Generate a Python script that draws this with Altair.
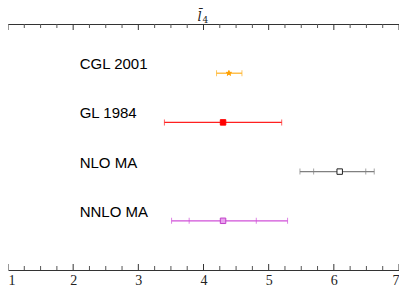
import altair as alt
import pandas as pd

labels = ["CGL 2001", "GL 1984", "NLO MA", "NNLO MA"]
rows = [1, 2, 3, 4]
centers = [4.39, 4.30, 6.09, 4.30]
total_lo = [4.20, 3.40, 5.48, 3.51]
total_hi = [4.59, 5.20, 6.62, 5.29]
inner_lo = [None, None, 5.69, 3.78]
inner_hi = [None, None, 6.49, 4.81]
label_x = [2.1, 2.1, 2.1, 2.1]

title_main = "l\u0304"
title_sub = "4"
title_x = [4.0]

line_colors = ["#FFB020", "#FF2020", "#808080", "#D050D8"]
point_fill = ["#FFA000", "#FF0000", "#FFFFFF", "#E9A0EE"]
point_stroke = ["#FFA000", "#FF0000", "#222222", "#C040C8"]
STAR = "M0,-1L0.225,-0.31L0.95,-0.31L0.36,0.12L0.59,0.81L0,0.38L-0.59,0.81L-0.36,0.12L-0.95,-0.31L-0.225,-0.31Z"
point_shape = [STAR, "square", "square", "square"]

major_ticks = [1, 2, 3, 4, 5, 6, 7]
minor_ticks = [1.25, 1.5, 1.75, 2.25, 2.5, 2.75, 3.25, 3.5, 3.75,
               4.25, 4.5, 4.75, 5.25, 5.5, 5.75, 6.25, 6.5, 6.75]

W, H = 391, 246

df = pd.DataFrame({"label": labels, "row": rows, "c": centers,
                   "lo": total_lo, "hi": total_hi, "lx": label_x})
caps = []
for lab, r, a, b, c, d in zip(labels, rows, total_lo, total_hi, inner_lo, inner_hi):
    for v in (a, b, c, d):
        if v is not None:
            caps.append({"label": lab, "row": r, "v": v})
df_caps = pd.DataFrame(caps)
df_major = pd.DataFrame({"v": major_ticks})
df_minor = pd.DataFrame({"v": minor_ticks})
df_title = pd.DataFrame({"x": title_x, "main": [title_main], "sub": [title_sub]})

xs = alt.Scale(domain=[1, 7], nice=False, zero=False)
ys = alt.Scale(domain=[0, 5], nice=False, zero=False, reverse=True)
col = alt.Scale(domain=labels, range=line_colors)

top_axis = alt.Axis(orient="top", title=None, labels=False, ticks=False,
                    grid=False, domainColor="#333333", domainWidth=1)
bot_axis = alt.Axis(orient="bottom", title=None, ticks=False, grid=False,
                    values=major_ticks, format="d",
                    domainColor="#333333", domainWidth=1,
                    labelFont="Liberation Serif", labelFontSize=14,
                    labelColor="#222222", labelPadding=3, labelFlush=True)

top_major = alt.Chart(df_major).mark_rule(color="#333333", strokeWidth=1).encode(
    x=alt.X("v:Q", scale=xs, axis=top_axis), y=alt.value(0), y2=alt.value(6))
bot_major = alt.Chart(df_major).mark_rule(color="#333333", strokeWidth=1).encode(
    x=alt.X("v:Q", scale=xs, axis=bot_axis), y=alt.value(H), y2=alt.value(H - 6))
top_minor = alt.Chart(df_minor).mark_rule(color="#555555", strokeWidth=1).encode(
    x=alt.X("v:Q", scale=xs, axis=None), y=alt.value(0), y2=alt.value(4))
bot_minor = alt.Chart(df_minor).mark_rule(color="#555555", strokeWidth=1).encode(
    x=alt.X("v:Q", scale=xs, axis=None), y=alt.value(H), y2=alt.value(H - 4))

t_main = alt.Chart(df_title).mark_text(align="center", baseline="alphabetic",
                                       font="DejaVu Serif", fontStyle="italic",
                                       fontSize=13, color="#222222", dx=-4).encode(
    x=alt.X("x:Q", scale=xs, axis=None), y=alt.value(-3), text="main:N")
t_sub = alt.Chart(df_title).mark_text(align="left", baseline="alphabetic",
                                      font="DejaVu Serif", fontSize=9,
                                      color="#222222", dx=-1).encode(
    x=alt.X("x:Q", scale=xs, axis=None), y=alt.value(-1), text="sub:N")

bars = alt.Chart(df).mark_rule(strokeWidth=1.2).encode(
    x=alt.X("lo:Q", scale=xs, axis=None), x2="hi:Q",
    y=alt.Y("row:Q", scale=ys, axis=None),
    color=alt.Color("label:N", scale=col, legend=None))

capm = alt.Chart(df_caps).mark_tick(orient="vertical", size=6, thickness=1).encode(
    x=alt.X("v:Q", scale=xs, axis=None),
    y=alt.Y("row:Q", scale=ys, axis=None),
    color=alt.Color("label:N", scale=col, legend=None))

pts = alt.Chart(df).mark_point(size=30, strokeWidth=1, opacity=1, fillOpacity=1).encode(
    x=alt.X("c:Q", scale=xs, axis=None),
    y=alt.Y("row:Q", scale=ys, axis=None),
    shape=alt.Shape("label:N", scale=alt.Scale(domain=labels, range=point_shape), legend=None),
    fill=alt.Fill("label:N", scale=alt.Scale(domain=labels, range=point_fill), legend=None),
    stroke=alt.Stroke("label:N", scale=alt.Scale(domain=labels, range=point_stroke), legend=None))

txt = alt.Chart(df).mark_text(align="left", baseline="middle", dy=-9,
                              font="Liberation Sans", fontSize=15, color="#000000").encode(
    x=alt.X("lx:Q", scale=xs, axis=None),
    y=alt.Y("row:Q", scale=ys, axis=None),
    text="label:N")

chart = alt.layer(top_major, bot_major, top_minor, bot_minor, t_main, t_sub,
                  bars, capm, pts, txt).resolve_axis(
    x="independent").properties(
    width=W, height=H,
    autosize=alt.AutoSizeParams(type="none"),
    padding={"left": 0, "top": 16, "right": 0, "bottom": 27},
).configure_view(strokeWidth=0)

chart.save("out.html", embed_options={"renderer": "svg", "actions": False})
